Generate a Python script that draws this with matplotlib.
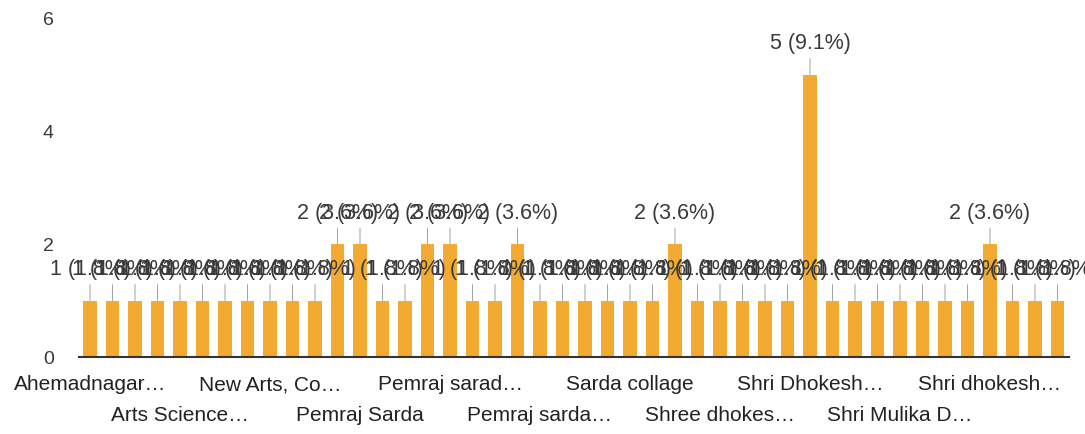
import matplotlib.pyplot as plt
import numpy as np

# === Responses per college (55 responses, sorted by college name) ===
counts = [
    1, 1, 1, 1, 1, 1, 1, 1, 1, 1,
    1, 2, 2, 1, 1, 2, 2, 1, 1, 2,
    1, 1, 1, 1, 1, 1, 2, 1, 1, 1,
    1, 1, 5, 1, 1, 1, 1, 1, 1, 1,
    2, 1, 1, 1,
]

# Only every 4th category name is legible in the chart
shown_labels = [
    "Ahemadnagar…", "Arts Science…", "New Arts, Co…", "Pemraj Sarda",
    "Pemraj sarad…", "Pemraj sarda…", "Sarda collage", "Shree dhokes…",
    "Shri Dhokesh…", "Shri Mulika D…", "Shri dhokesh…",
]
label_step = 4
y_ticks = [0, 2, 4, 6]

BAR_COLOR = '#f3aa33'
TEXT_COLOR = '#3a3a3a'
FONT = 'Liberation Sans'

plt.rcParams['font.family'] = [FONT, 'DejaVu Sans']

total = sum(counts)
x = np.arange(len(counts))

fig = plt.figure(figsize=(10.85, 4.34), dpi=100)
ax = fig.add_axes([0.0726, 0.1774, 0.9124, 0.781])

ax.bar(x, counts, width=0.58, color=BAR_COLOR, zorder=2)

# === Value annotations with stems (drawn over one another like the original) ===
for xi, c in zip(x, counts):
    ax.annotate(
        f"{c} ({c / total * 100:.1f}%)",
        xy=(xi, c), xytext=(0, 22), textcoords='offset points',
        ha='center', va='center', fontsize=15.5, color=TEXT_COLOR,
        annotation_clip=False,
        arrowprops=dict(arrowstyle='-', color='#a0a0a0', lw=0.7,
                        shrinkA=1, shrinkB=0),
    )

ax.set_xlim(-0.5, len(counts) - 0.5)
ax.set_ylim(0, 6)
ax.set_yticks(y_ticks)
ax.tick_params(axis='y', length=0, pad=18, labelsize=14, labelcolor=TEXT_COLOR)

# === Two staggered rows of category labels ===
label_pos = x[::label_step]
ax.set_xticks(label_pos[::2])
ax.set_xticklabels(shown_labels[::2])
ax.set_xticks(label_pos[1::2], minor=True)
ax.set_xticklabels(shown_labels[1::2], minor=True)
ax.tick_params(axis='x', which='major', length=0, pad=13, labelsize=15, labelcolor='#222222')
ax.tick_params(axis='x', which='minor', length=0, pad=35, labelsize=15, labelcolor='#222222')

for side in ['top', 'right', 'left']:
    ax.spines[side].set_visible(False)
ax.spines['bottom'].set_color('#333333')
ax.spines['bottom'].set_linewidth(1.5)
ax.spines['bottom'].set_zorder(3)

fig.savefig('out.png', dpi=100)
plt.close(fig)
